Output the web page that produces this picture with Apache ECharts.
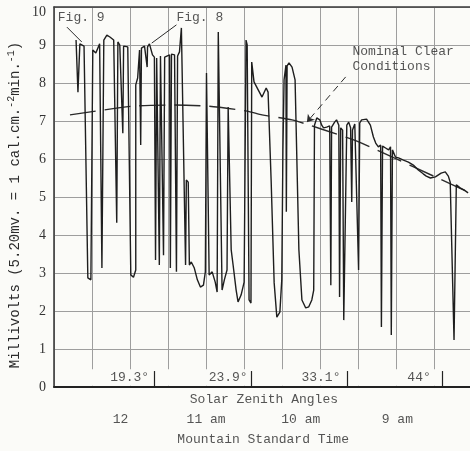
<!DOCTYPE html>
<html>
<head>
<meta charset="utf-8">
<title>Millivolts against solar zenith angle</title>
<script src="https://cdn.jsdelivr.net/npm/echarts@6/dist/echarts.min.js"></script>
<style>
  html, body { margin: 0; padding: 0; background: #fbfbf8; }
  #chart { width: 470px; height: 451px; }
</style>
</head>
<body>
<div id="chart"></div>
<script>
// x is in chart-paper divisions (one grid square), y in millivolts
var traceX = [0.58, 0.63, 0.68, 0.79, 0.84, 0.89, 0.97, 1.02, 1.10, 1.20, 1.26, 1.31, 1.39, 1.47, 1.57, 1.62, 1.65, 1.68, 1.73, 1.78,
  1.81, 1.83, 1.88, 1.94, 1.99, 2.02, 2.09, 2.15, 2.15, 2.20, 2.25, 2.28, 2.30, 2.38, 2.43, 2.45, 2.46, 2.51, 2.59,
  2.64, 2.67, 2.70, 2.75, 2.77, 2.80, 2.85, 2.88, 2.91, 2.96, 3.04, 3.06, 3.09, 3.17, 3.19, 3.22, 3.25, 3.30, 3.35, 3.46,
  3.48, 3.53, 3.56, 3.61, 3.69, 3.77, 3.85, 3.93, 3.98, 4.01, 4.06, 4.08, 4.16, 4.24, 4.29, 4.32, 4.37, 4.42, 4.48, 4.55,
  4.58, 4.63, 4.66, 4.71, 4.79, 4.84, 4.92, 5.00, 5.05, 5.08, 5.13, 5.18, 5.20,
  5.26, 5.37, 5.47, 5.58, 5.63, 5.71, 5.79, 5.86, 5.94, 5.99, 6.02, 6.05, 6.10, 6.11, 6.13, 6.18, 6.26,
  6.34, 6.39, 6.44, 6.52, 6.62, 6.70, 6.78, 6.83, 6.85, 6.91, 6.99, 7.04, 7.09, 7.17, 7.25, 7.28, 7.30, 7.38, 7.43, 7.49,
  7.51, 7.54, 7.59, 7.62, 7.67, 7.70, 7.75, 7.80, 7.83, 7.85, 7.91, 7.96, 8.01, 8.04, 8.09, 8.22, 8.32, 8.40, 8.46, 8.53,
  8.59, 8.61, 8.64, 8.72, 8.80, 8.85, 8.87, 8.90, 8.98, 9.06, 9.19, 9.32, 9.45, 9.58, 9.71, 9.79, 9.90, 10.03, 10.18, 10.29,
  10.37, 10.42, 10.47, 10.52, 10.58, 10.68, 10.79, 10.89];
var traceY = [9.13, 7.76, 9.03, 8.97, 8.95, 2.87, 2.82, 8.87, 8.79, 9.03, 3.13, 9.13, 9.26, 9.21, 9.13, 9.11, 4.32, 9.08, 9.00, 8.97,
  6.68, 8.97, 8.95, 8.95, 8.95, 2.95, 2.89, 3.08, 7.95, 8.13, 8.87, 6.37, 8.92, 8.97, 8.92, 8.42, 8.95, 9.03, 8.74,
  8.68, 3.34, 8.66, 8.68, 3.21, 8.71, 8.66, 3.47, 8.68, 8.71, 8.74, 3.13, 8.76, 8.74, 8.71, 3.03, 8.71, 8.82, 9.45, 3.21,
  5.45, 5.39, 3.21, 3.29, 3.13, 2.82, 2.63, 2.68, 3.03, 8.26, 8.24, 2.95, 3.03, 2.76, 2.50, 9.34, 9.32, 2.55, 2.82, 3.08,
  7.37, 7.34, 3.61, 3.21, 2.55, 2.24, 2.42, 2.76, 9.13, 9.00, 2.29, 2.21, 8.55,
  8.03, 7.82, 7.63, 7.87, 7.76, 5.45, 2.74, 1.84, 1.97, 2.82, 6.24, 8.08, 8.47, 4.61, 8.45, 8.53, 8.42,
  8.08, 8.03, 3.61, 2.29, 2.08, 2.11, 2.29, 2.55, 6.89, 7.08, 7.03, 6.89, 6.82, 6.84, 6.87, 2.68, 6.84, 6.97, 7.03, 6.89,
  2.37, 6.82, 6.76, 1.76, 1.71, 6.89, 6.97, 6.82, 4.87, 6.76, 6.92, 6.97, 3.08, 6.95, 7.03, 7.05, 6.89, 6.58, 6.42, 6.32,
  6.37, 1.58, 6.34, 6.29, 6.24, 6.32, 1.37, 6.24, 6.05, 6.03, 5.97, 5.92, 5.84, 5.71, 5.61, 5.55, 5.50, 5.53, 5.63, 5.66,
  5.55, 5.39, 5.34, 1.24, 5.32, 5.24, 5.18, 5.11];

// nominal clear conditions curve
var clearX = [0.42, 2.07, 3.17, 4.08, 5.08, 5.47, 6.26, 7.75, 8.09, 10.89];
var clearY = [7.16, 7.39, 7.42, 7.39, 7.26, 7.16, 7.03, 6.55, 6.42, 5.13];

// solar zenith angles band along the bottom
var angleLabels = ['19.3°', '23.9°', '33.1°', '44°'];
var angleX = [1.99, 4.58, 7.02, 9.60];
var angleBreaks = [2.64, 5.18, 7.70, 10.21];

// mountain standard time
var timeLabels = ['12', '11 am', '10 am', '9 am'];
var timeX = [1.75, 4.00, 6.49, 9.03];

var paper = '#fbfbf8';
var ink = '#2b2b2b';
var gridGray = '#9e9e9e';
var mono = '"Liberation Mono", "DejaVu Sans Mono", monospace';
var xMax = 10.94;

function pairs(xs, ys) {
  var out = [];
  for (var i = 0; i < xs.length; i++) {
    out.push([xs[i], ys[i]]);
  }
  return out;
}

function labelPoints(xs, y, names) {
  var out = [];
  for (var i = 0; i < xs.length; i++) {
    out.push({ value: [xs[i], y], name: names[i] });
  }
  return out;
}

var chart = echarts.init(document.getElementById('chart'));

var option = {
  backgroundColor: paper,
  animation: false,
  grid: { left: 54, right: -2, top: 7, bottom: 64 },
  xAxis: [
    {
      type: 'value', min: 0, max: xMax, interval: 1,
      axisLine: { show: true, lineStyle: { color: '#222', width: 2 } },
      axisTick: { show: false },
      axisLabel: { show: false },
      splitLine: { show: true, lineStyle: { color: gridGray, width: 1 } }
    },
    {
      type: 'value', min: 0, max: xMax, position: 'top',
      axisLine: { show: true, onZero: false, lineStyle: { color: '#3a3a3a', width: 1.5 } },
      axisTick: { show: false },
      axisLabel: { show: false },
      splitLine: { show: false }
    }
  ],
  yAxis: {
    type: 'value', min: 0, max: 10, interval: 1,
    axisLine: { show: true, lineStyle: { color: '#333', width: 1.5 } },
    axisTick: { show: false },
    axisLabel: {
      color: '#333', fontFamily: '"Liberation Serif", serif', fontSize: 14, margin: 8,
      // the top label sits a little below the frame in the original
      formatter: function (v) { return v === 10 ? '{t|10}' : String(v); },
      rich: { t: { color: '#333', fontFamily: '"Liberation Serif", serif', fontSize: 14, padding: [11, 0, 0, 0] } }
    },
    splitLine: { show: true, lineStyle: { color: gridGray, width: 1 } }
  },
  graphic: [
    {
      type: 'text', x: 15, y: 205, rotation: Math.PI / 2,
      style: {
        text: '{a|Millivolts (5.20mv. = 1 cal.cm.}{s|-2}{a|min.}{s|-1}{a|)}',
        align: 'center', verticalAlign: 'middle',
        rich: {
          a: { fontFamily: mono, fontSize: 14, fill: ink, lineHeight: 18 },
          s: { fontFamily: mono, fontSize: 10, fill: ink, lineHeight: 18, verticalAlign: 'top' }
        }
      }
    }
  ],
  series: [
    {
      // angle band: hides the grid above the axis and carries the labels
      type: 'scatter', symbolSize: 0, clip: false, silent: true,
      data: labelPoints(angleX, 0.24, angleLabels),
      label: { show: true, position: 'inside', formatter: '{b}', color: ink, fontFamily: mono, fontSize: 13 },
      markArea: {
        silent: true,
        itemStyle: { color: paper },
        data: [[{ coord: [0.03, 0.03] }, { coord: [xMax, 0.47] }]]
      },
      markLine: {
        silent: true, symbol: 'none', label: { show: false },
        lineStyle: { color: '#222', width: 1.2, type: 'solid' },
        data: angleBreaks.map(function (x) { return [{ coord: [x, 0] }, { coord: [x, 0.42] }]; })
      }
    },
    {
      type: 'scatter', symbolSize: 0, clip: false, silent: true,
      data: labelPoints(timeX, -0.87, timeLabels)
        .concat(labelPoints([5.52], -0.34, ['Solar Zenith Angles']))
        .concat(labelPoints([5.50], -1.39, ['Mountain Standard Time'])),
      label: { show: true, position: 'inside', formatter: '{b}', color: ink, fontFamily: mono, fontSize: 13 }
    },
    {
      name: 'Nominal Clear Conditions',
      type: 'line', symbol: 'none', smooth: 0.2,
      data: pairs(clearX, clearY),
      lineStyle: { color: ink, width: 1.4, type: [26, 9] }
    },
    {
      name: 'Millivolts',
      type: 'line', symbol: 'none',
      data: pairs(traceX, traceY),
      lineStyle: { color: '#1e1e1e', width: 1.4 }
    },
    {
      // annotations
      type: 'scatter', symbolSize: 0, silent: true,
      data: [
        { value: [0.10, 9.71], name: 'Fig. 9' },
        { value: [3.22, 9.71], name: 'Fig. 8' },
        { value: [7.85, 8.84], name: 'Nominal Clear' },
        { value: [7.85, 8.42], name: 'Conditions' }
      ],
      label: { show: true, position: 'right', distance: 0, formatter: '{b}', color: ink, fontFamily: mono, fontSize: 13 },
      markLine: {
        silent: true, symbol: 'none', label: { show: false },
        lineStyle: { color: ink, width: 1, type: 'solid' },
        data: [
          [{ coord: [0.34, 9.47] }, { coord: [0.73, 9.08] }],
          [{ coord: [3.22, 9.53] }, { coord: [2.57, 9.05] }],
          [{ coord: [7.67, 8.16], lineStyle: { type: [7, 5] } }, { coord: [6.65, 6.97], symbol: 'arrow', symbolSize: 7 }]
        ]
      }
    }
  ]
};

chart.setOption(option);
</script>
</body>
</html>
